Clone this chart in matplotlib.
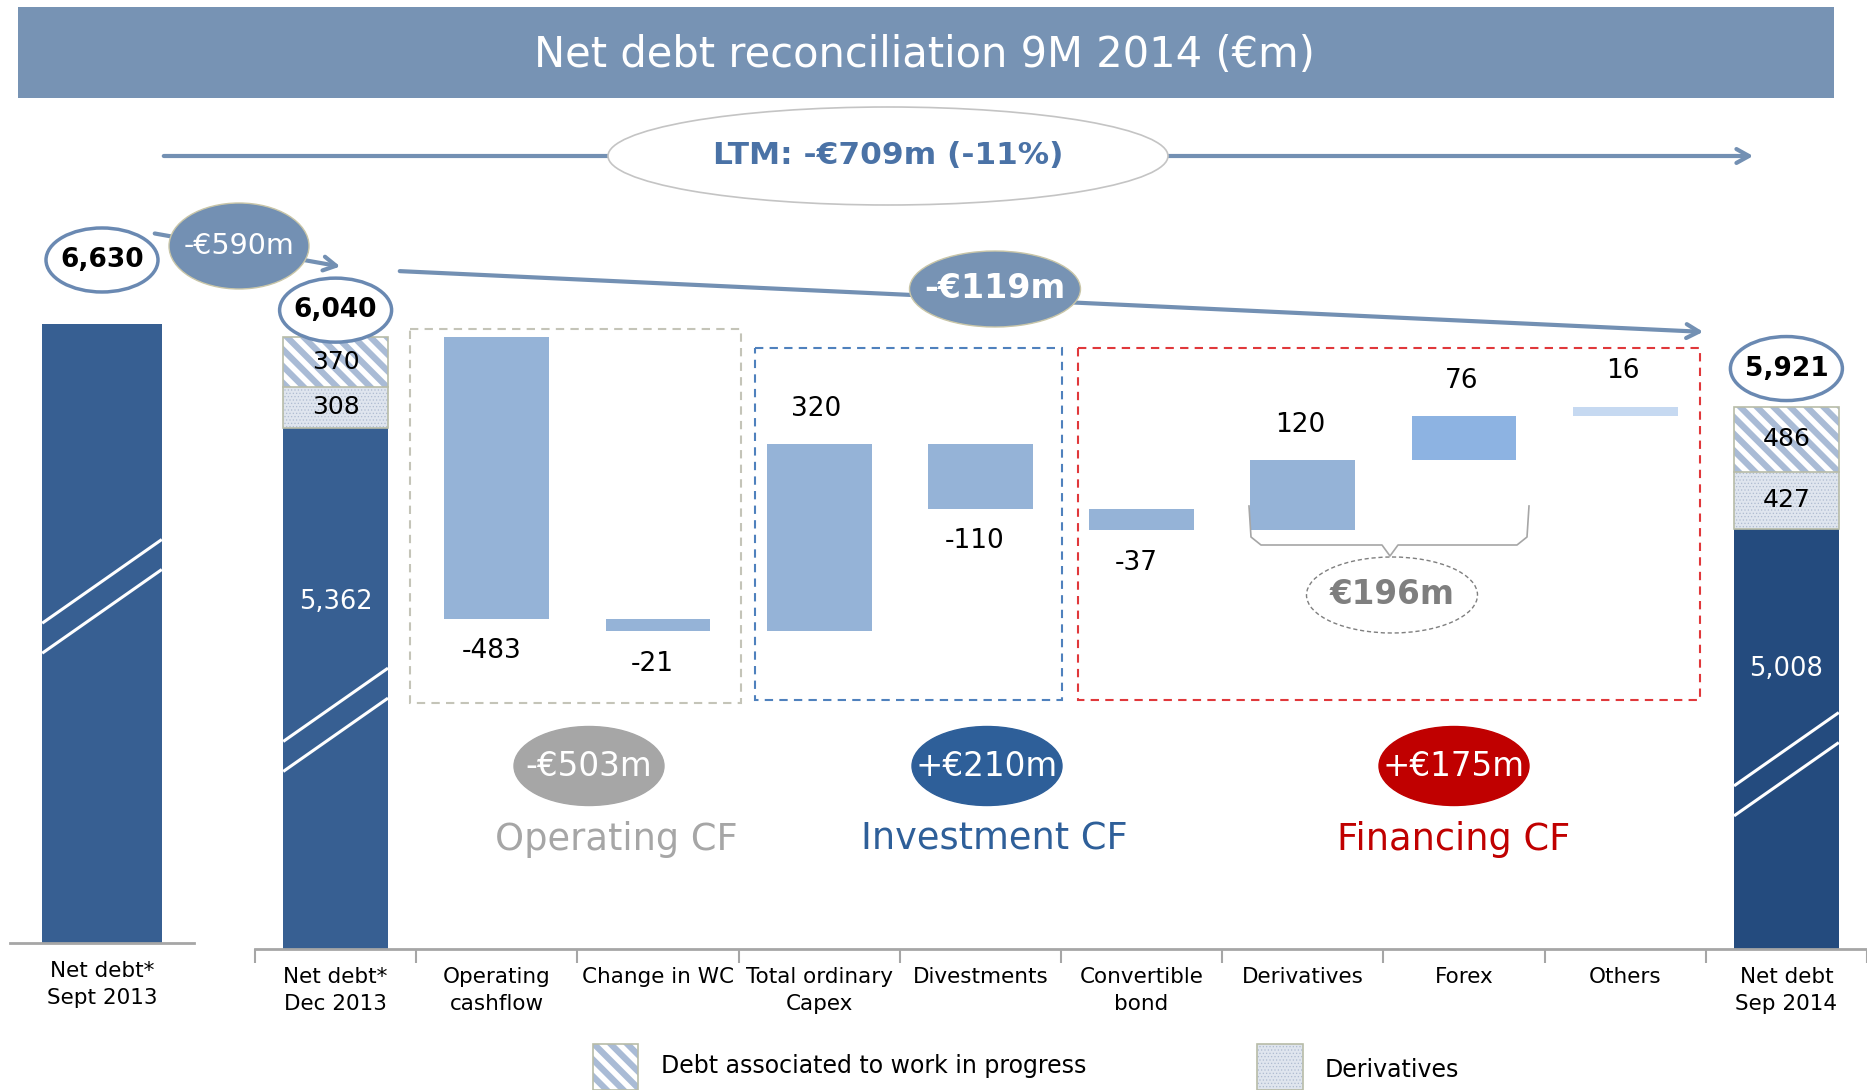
import matplotlib.pyplot as plt
from matplotlib.patches import Ellipse, Rectangle
import numpy as np

# ---- data ----
start_label = 'Net debt*\nSept 2013'
categories = ['Net debt*\nDec 2013', 'Operating\ncashflow', 'Change in WC',
              'Total ordinary\nCapex', 'Divestments', 'Convertible\nbond',
              'Derivatives', 'Forex', 'Others', 'Net debt\nSep 2014']
net_debt_sep13 = 6630
totals = [6040, 5921]              # Dec 2013, Sep 2014
wip_debt = [370, 486]              # debt associated to work in progress
deriv_debt = [308, 427]            # derivatives
core_debt = [5362, 5008]
deltas = [-483, -21, 320, -110, -37, 120, 76, 16]

ltm_text = 'LTM: -€709m (-11%)'
bridge_texts = ['-€590m', '-€119m']
group_names = ['Operating CF', 'Investment CF', 'Financing CF']
group_sums = ['-€503m', '+€210m', '+€175m']
brace_text = '€196m'

# ---- style ----
W, H = 1867, 1090
dark = '#375f92'
dark2 = '#244b7e'
wf_colors = ['#95b3d7'] * 6 + ['#8db3e2', '#c6d9f1']
steel = '#7390b3'
ring = '#6a89b2'
grey_ax = '#a6a6a6'
group_colors = ['#a6a6a6', '#2e5f99', '#c00000']
FLOOR = 4991        # broken axis floor of the main panel
SEG = 0.23          # drawing scale of the stacked segments (schematic)

fig = plt.figure(figsize=(W / 100, H / 100), dpi=100)
ax0 = fig.add_axes([10 / W, 147 / H, 184 / W, 943 / H])
ax = fig.add_axes([255 / W, 141 / H, 1612 / W, 949 / H])
ov = fig.add_axes([0, 0, 1, 1])
ov.set_xlim(0, W)
ov.set_ylim(H, 0)
ov.axis('off')


def to_px(a, x, y):
    X, Y = a.transData.transform((x, y))
    return X, H - Y


def bubble(cx, cy, w, h, text, fc, ec, tc, size, weight='normal', lw=2.5, ls='-'):
    ov.add_patch(Ellipse((cx, cy), w, h, facecolor=fc, edgecolor=ec, lw=lw,
                         ls=ls, zorder=5))
    ov.text(cx, cy, text, ha='center', va='center', color=tc, fontsize=size,
            fontweight=weight, zorder=6)


def slashes(a, xc, y_mid, w=0.65):
    xl, yl = to_px(a, xc - w / 2, y_mid)
    xr, _ = to_px(a, xc + w / 2, y_mid)
    rise = 0.7 * (xr - xl)
    for off in (-15, 15):
        ov.plot([xl, xr], [yl + off + rise / 2, yl + off - rise / 2],
                color='white', lw=2.2, solid_capstyle='butt', zorder=3)


def style_axis(a):
    for s in ['top', 'right', 'left']:
        a.spines[s].set_visible(False)
    a.spines['bottom'].set_color(grey_ax)
    a.spines['bottom'].set_linewidth(2)
    a.set_yticks([])
    a.patch.set_visible(False)


# ---- first panel: Sept 2013 ----
ax0.bar(0, net_debt_sep13, width=0.65, color=dark)
ax0.set_xlim(-0.5, 0.5)
ax0.set_ylim(0, 10100)
style_axis(ax0)
ax0.set_xticks([0])
ax0.set_xticklabels([start_label], fontsize=15.5, linespacing=1.45)
ax0.tick_params(axis='x', length=0, pad=13)

# ---- main panel ----
ax.set_xlim(-0.5, len(categories) - 0.5)
ax.set_ylim(FLOOR, 6618)
style_axis(ax)
ax.set_xticks(np.arange(len(categories)))
ax.set_xticklabels(categories, fontsize=15.5, linespacing=1.45)
ax.set_xticks(np.arange(-0.5, len(categories), 1), minor=True)
ax.tick_params(axis='x', which='major', length=0, pad=13)
ax.tick_params(axis='x', which='minor', length=10, width=1.5, color=grey_ax)

total_x = [0, len(categories) - 1]
base_colors = [dark, dark2]
for j, xi in enumerate(total_x):
    wip_h = wip_debt[j] * SEG
    der_h = deriv_debt[j] * SEG
    core_top = totals[j] - wip_h - der_h
    ax.bar(xi, core_top - FLOOR, bottom=FLOOR, width=0.65, color=base_colors[j])
    with plt.rc_context({'hatch.linewidth': 0.5}):
        ax.bar(xi, der_h, bottom=core_top, width=0.65, color='#dfe5ee',
               hatch='.....', edgecolor='#aebbd0', lw=0)
    with plt.rc_context({'hatch.linewidth': 4.5}):
        ax.bar(xi, wip_h, bottom=core_top + der_h, width=0.65, color='white',
               hatch='\\\\', edgecolor='#a9bbd5', lw=0)
    ax.bar(xi, wip_h + der_h, bottom=core_top, width=0.65, fill=False,
           edgecolor='#b8bca8', lw=1.2)
    ax.plot([xi - 0.325, xi + 0.325], [core_top + der_h] * 2, color='#b8bca8', lw=1.2)
    ax.text(xi, core_top + der_h + wip_h / 2, f'{wip_debt[j]}', ha='center',
            va='center', fontsize=18)
    ax.text(xi, core_top + der_h / 2, f'{deriv_debt[j]}', ha='center',
            va='center', fontsize=18)
    ax.text(xi, core_top - (core_top - FLOOR) / 3, f'{core_debt[j]:,}',
            ha='center', va='center', fontsize=18.5, color='white')
    slashes(ax, xi, core_top - 0.56 * (core_top - FLOOR))

slashes(ax0, 0, net_debt_sep13 * 0.56)

cum = totals[0]
for i, d in enumerate(deltas):
    xi = i + 1
    ax.bar(xi, abs(d), bottom=cum + min(d, 0), width=0.65, color=wf_colors[i])
    if d < 0:
        ax.annotate(f'{d}', (xi, cum + d), xytext=(-4, -14), textcoords='offset points',
                    ha='center', va='top', fontsize=19)
    else:
        ax.annotate(f'{d}', (xi, cum + d), xytext=(-2, 16), textcoords='offset points',
                    ha='center', va='bottom', fontsize=19)
    cum += d

# ---- decorations ----
ov.add_patch(Rectangle((18, 7), 1816, 91, facecolor='#7793b4', edgecolor='none'))
ov.text(924, 55, 'Net debt reconciliation 9M 2014 (€m)', ha='center', va='center',
        color='white', fontsize=30)

arrow = dict(arrowstyle='->,head_length=0.9,head_width=0.5', lw=3, color=steel)
ov.annotate('', xy=(1756, 156), xytext=(161, 156), arrowprops=arrow)
ov.annotate('', xy=(343, 267), xytext=(152, 233), arrowprops=arrow)
ov.annotate('', xy=(1706, 332), xytext=(397, 271), arrowprops=arrow)

bubble(888, 156, 560, 98, ltm_text, 'white', '#c4c4c4', '#4a72a6', 22.5, 'bold', lw=1.2)
bubble(239, 246, 140, 86, bridge_texts[0], steel, '#c9c6a8', 'white', 20.5, lw=1)
bubble(995, 289, 171, 76, bridge_texts[1], '#7793b4', '#c9c6a8', 'white', 24, 'bold', lw=1)

# value rings over the totals
for a, xi, val, lift in [(ax0, 0, net_debt_sep13, 64), (ax, 0, totals[0], 27),
                         (ax, total_x[1], totals[1], 38)]:
    cx, cy = to_px(a, xi, val)
    bubble(cx, cy - lift, 112, 64, f'{val:,}', 'white', ring, 'black', 19, 'bold', lw=2.5)

# group boxes
boxes = [(410, 329, 331, 374), (755, 348, 307, 352), (1078, 348, 622, 352)]
box_edges = ['#c4c4b8', '#4f81bd', '#e0383b']
for (bx, by, bw, bh), ec in zip(boxes, box_edges):
    ov.add_patch(Rectangle((bx, by), bw, bh, fill=False, edgecolor=ec, lw=1.5,
                           ls=(0, (4, 3)), zorder=1))

for cx, lx, name, s, c in zip([589, 987, 1454], [616, 994, 1454], group_names,
                              group_sums, group_colors):
    bubble(cx, 766, 150, 79, s, c, c, 'white', 23.5, lw=1)
    ov.text(lx, 839, name, ha='center', va='center', color=c, fontsize=26.5)

# brace under derivatives + forex
bl, br, bt, bb, bc = 1249, 1529, 506, 545, 1390
ov.plot([bl, bl + 2, bl + 12, bc - 8, bc, bc + 8, br - 12, br - 2, br],
        [bt, bb - 8, bb, bb, bb + 11, bb, bb, bb - 8, bt],
        color='#a6a6a6', lw=1.2)
bubble(1392, 595, 171, 76, brace_text, 'white', '#7f7f7f', '#7f7f7f', 23.5, 'bold',
       lw=1, ls=(0, (3, 2)))

# legend
with plt.rc_context({'hatch.linewidth': 4.5}):
    ov.add_patch(Rectangle((593, 1044), 45, 46, facecolor='white', hatch='\\\\',
                           edgecolor='#a9bbd5', lw=0))
ov.add_patch(Rectangle((593, 1044), 45, 46, fill=False, edgecolor='#b8bca8', lw=1.2))
with plt.rc_context({'hatch.linewidth': 0.5}):
    ov.add_patch(Rectangle((1257, 1044), 46, 46, facecolor='#dfe5ee', hatch='.....',
                           edgecolor='#aebbd0', lw=0))
ov.add_patch(Rectangle((1257, 1044), 46, 46, fill=False, edgecolor='#b8bca8', lw=1.2))
ov.text(661, 1066, 'Debt associated to work in progress', va='center', fontsize=17)
ov.text(1325, 1070, 'Derivatives', va='center', fontsize=17)

fig.savefig('out.png', dpi=100)
